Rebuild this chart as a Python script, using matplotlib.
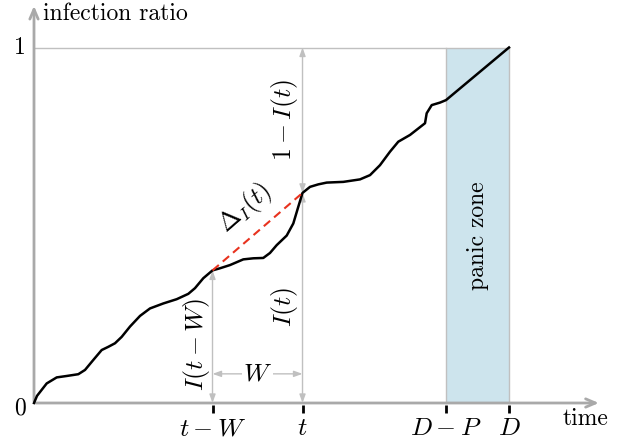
import numpy as np
import matplotlib.pyplot as plt

plt.rcParams['mathtext.fontset'] = 'cm'
plt.rcParams['font.family'] = 'cmr10'
plt.rcParams['axes.unicode_minus'] = False

# infection curve (time, ratio)
time = [0.000, 0.063, 0.267, 0.478, 0.688, 0.933, 1.074, 1.248, 1.425, 1.564,
        1.705, 1.846, 2.021, 2.232, 2.442, 2.722, 3.004, 3.248, 3.389, 3.564,
        3.758, 3.916, 4.126, 4.406, 4.617, 4.827, 4.968, 5.109, 5.320, 5.459,
        5.564, 5.653, 5.811, 5.985, 6.162, 6.512, 6.863, 7.074, 7.284, 7.495,
        7.669, 7.916, 8.232, 8.267, 8.373, 8.547, 8.674, 10.000]
ratio = [0.000, 0.020, 0.055, 0.072, 0.076, 0.081, 0.093, 0.121, 0.149, 0.158,
         0.168, 0.186, 0.215, 0.245, 0.266, 0.280, 0.292, 0.307, 0.323, 0.351,
         0.373, 0.379, 0.388, 0.404, 0.407, 0.408, 0.422, 0.444, 0.471, 0.505,
         0.552, 0.591, 0.608, 0.615, 0.620, 0.622, 0.629, 0.641, 0.669, 0.707,
         0.735, 0.754, 0.787, 0.815, 0.838, 0.845, 0.852, 1.000]

t_w, t = 3.758, 5.653
d_p, d = 8.674, 10.0
I_tw, I_t = 0.373, 0.591

tick_pos = [t_w, t, d_p, d]
tick_lab = ['$t-W$', '$t$', '$D-P$', '$D$']

gray = '#a9a9a9'
lgray = '#c0c0c0'
fs_txt = 17
fs_math = 18.5

fig = plt.figure(figsize=(6.24, 4.42), dpi=100)
ax = fig.add_axes([0, 0, 1, 1])
ax.set_xlim(-34 / 47.5, 590 / 47.5)
ax.set_ylim(-39 / 355.5, 403 / 355.5)
ax.axis('off')

# panic zone
ax.fill_betweenx([0, 1], d_p, d, color='#cde4ed', lw=0, zorder=1)
ax.plot([d_p, d_p], [0, 1], color=lgray, lw=1, zorder=2)
ax.plot([d, d], [0, 1], color=lgray, lw=1, zorder=2)
ax.text((d_p + d) / 2, 0.47, 'panic zone', rotation=90, ha='center', va='center', fontsize=fs_txt)

# line at 1
ax.plot([0, d], [1, 1], color=lgray, lw=1, zorder=2)

# axes
ax.annotate('', xy=(11.95, 0), xytext=(-0.02, 0),
            arrowprops=dict(arrowstyle='->,head_length=0.7,head_width=0.3', color=gray, lw=2))
ax.annotate('', xy=(0, 1.125), xytext=(0, -0.003),
            arrowprops=dict(arrowstyle='->,head_length=0.7,head_width=0.3', color=gray, lw=2))
ax.text(0.19, 1.094, 'infection ratio', ha='left', va='center', fontsize=fs_txt)
ax.text(11.6, -0.045, 'time', ha='center', va='center', fontsize=fs_txt)
ax.text(-0.3, -0.015, '0', ha='center', va='center', fontsize=fs_txt)
ax.text(-0.3, 1.0, '1', ha='center', va='center', fontsize=fs_txt)

# ticks
for x, lab in zip(tick_pos, tick_lab):
    ax.plot([x, x], [-0.005, -0.027], color='black', lw=2, solid_capstyle='butt')
    ax.text(x, -0.072, lab, ha='center', va='center', fontsize=fs_math)

# measurement arrows
arr = dict(arrowstyle='<|-|>,head_length=0.5,head_width=0.18', color=lgray, lw=1,
           shrinkA=0, shrinkB=0)
ax.annotate('', xy=(t_w, I_tw), xytext=(t_w, 0), arrowprops=arr)
ax.annotate('', xy=(t, I_t), xytext=(t, 0), arrowprops=arr)
ax.annotate('', xy=(t, 1), xytext=(t, I_t), arrowprops=arr)
ax.annotate('', xy=(t, 0.082), xytext=(t_w, 0.082), arrowprops=arr)
ax.text((t_w + t) / 2, 0.082, '$W$', ha='center', va='center', fontsize=fs_math,
        bbox=dict(fc='white', ec='none', pad=1))
ax.text(3.43, 0.166, '$I(t-W)$', rotation=90, ha='center', va='center', fontsize=fs_math)
ax.text(5.28, 0.27, '$I(t)$', rotation=90, ha='center', va='center', fontsize=fs_math)
ax.text(5.28, 0.796, '$1-I(t)$', rotation=90, ha='center', va='center', fontsize=fs_math)

# curve
ax.plot(time, ratio, color='black', lw=1.8, zorder=5, solid_joinstyle='round')
ax.plot([t_w, t], [I_tw, I_t], color='#e8321e', lw=1.5, ls=(0, (4, 2.5)), zorder=6)
ax.text(4.44, 0.548, r'$\Delta_I(t)$', rotation=41, ha='center', va='center', fontsize=fs_math)

fig.savefig('out.png', dpi=100)
